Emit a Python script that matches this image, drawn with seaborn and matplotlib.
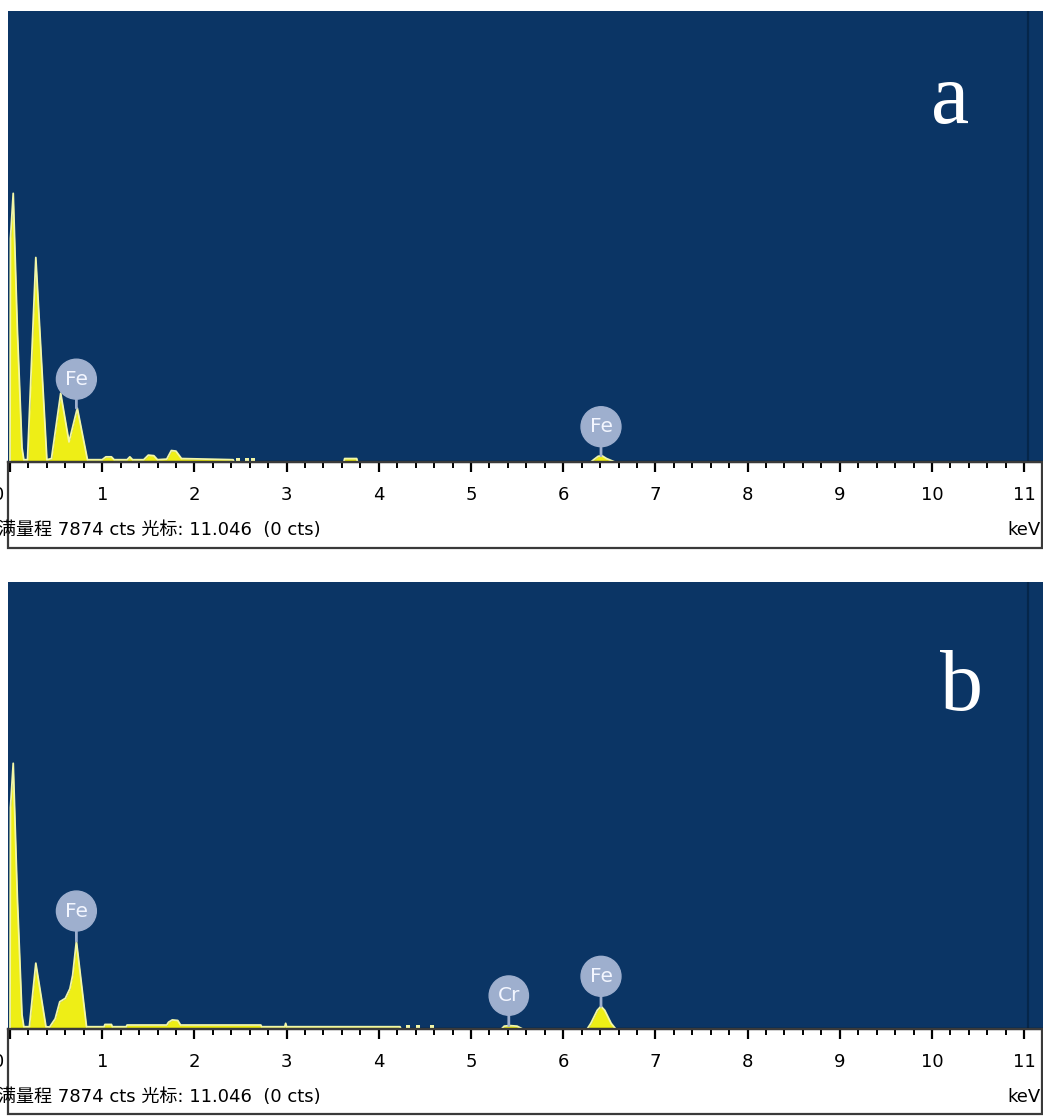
import matplotlib
matplotlib.use("Agg")
import matplotlib.pyplot as plt
from matplotlib.patches import Rectangle
from matplotlib.ticker import MultipleLocator
import seaborn as sns

# ---------------- data ----------------
energy_a = [0.00, 0.005, 0.035, 0.08, 0.13, 0.15,
            0.19, 0.28, 0.40,
            0.45, 0.55, 0.64, 0.73, 0.84,
            1.00, 1.04, 1.10, 1.13, 1.27, 1.30, 1.33, 1.45, 1.50, 1.56, 1.60,
            1.70, 1.75, 1.80, 1.86, 2.42, 2.43,
            3.62, 3.63, 3.76, 3.77,
            6.30, 6.33, 6.38, 6.42, 6.47, 6.53, 6.56, 11.2]
counts_a = [0, 3900, 4690, 2300, 250, 40,
            40, 3570, 40,
            60, 1200, 350, 940, 40,
            40, 90, 90, 40, 40, 90, 40, 40, 120, 110, 40,
            50, 200, 190, 60, 40, 0,
            0, 60, 60, 0,
            0, 40, 100, 110, 60, 20, 0, 0]
dots_a_energy = [2.47, 2.57, 2.64]
dots_a_counts = [40, 40, 40]

energy_b = [0.00, 0.005, 0.035, 0.08, 0.13, 0.15,
            0.21, 0.28, 0.39, 0.43,
            0.49, 0.54, 0.60, 0.65, 0.68, 0.72, 0.83,
            1.02, 1.03, 1.10, 1.11, 1.26, 1.27, 1.70, 1.72, 1.76, 1.82, 1.85,
            2.72, 2.73, 2.98, 2.99, 3.00, 4.23, 4.24,
            5.33, 5.36, 5.42, 5.50, 5.56,
            6.26, 6.30, 6.37, 6.41, 6.45, 6.52, 6.57, 11.2]
counts_b = [0, 3900, 4680, 2300, 250, 40,
            40, 1160, 40, 35,
            180, 480, 540, 710, 950, 1550, 40,
            40, 80, 80, 40, 40, 70, 70, 120, 160, 150, 70,
            70, 40, 40, 100, 40, 40, 0,
            0, 50, 60, 50, 0,
            0, 100, 330, 400, 330, 100, 0, 0]
dots_b_energy = [4.32, 4.42, 4.58]
dots_b_counts = [40, 40, 40]

markers_a_label = ["Fe", "Fe"]
markers_a_energy = [0.72, 6.41]
markers_a_counts = [940, 110]

markers_b_label = ["Fe", "Cr", "Fe"]
markers_b_energy = [0.72, 5.41, 6.41]
markers_b_counts = [1550, 60, 400]

tick_values = list(range(0, 12))
tick_labels = [""] + [str(v) for v in range(1, 12)]
full_scale = 7874
cursor_kev = 11.046
caption = "满量程 7874 cts 光标: 11.046  (0 cts)"
panel_letters = ["a", "b"]

# ---------------- style ----------------
sns.set_theme(style="white")
plt.rcParams["font.family"] = ["DejaVu Sans", "Noto Sans CJK SC"]

W, H = 1043, 1116
fig = plt.figure(figsize=(W / 100, H / 100), dpi=100)
fig.patch.set_facecolor("white")

BG = "#0b3565"
FILL = "#eeee16"
EDGE = "#f2f6a8"
MARK = "#9eafce"


def fx(px):
    return px / W


def fy(py):
    return 1 - py / H


panels = [
    dict(top=11, bottom=462, box_bottom=548, e=energy_a, c=counts_a,
         de=dots_a_energy, dc=dots_a_counts,
         ml=markers_a_label, me=markers_a_energy, mc=markers_a_counts,
         letter=panel_letters[0], letter_x=950, letter_base=123, off=29),
    dict(top=582, bottom=1029, box_bottom=1114, e=energy_b, c=counts_b,
         de=dots_b_energy, dc=dots_b_counts,
         ml=markers_b_label, me=markers_b_energy, mc=markers_b_counts,
         letter=panel_letters[1], letter_x=962, letter_base=710, off=30),
]

for p in panels:
    left_px, right_px = 8, W
    ax = fig.add_axes([fx(left_px), fy(p["bottom"]), fx(right_px - left_px),
                       (p["bottom"] - p["top"]) / H])
    ax.set_facecolor(BG)
    ax.fill_between(p["e"], p["c"], color=FILL, lw=0, zorder=2)
    sns.lineplot(x=p["e"], y=p["c"], ax=ax, color=EDGE, lw=1.3,
                 estimator=None, sort=False, zorder=3)
    sns.scatterplot(x=p["de"], y=p["dc"], ax=ax, color=EDGE, marker="s",
                    s=5, linewidth=0, zorder=3)
    ax.axvline(cursor_kev, color="#05264a", lw=1.6, zorder=1)

    for lab, e, c in zip(p["ml"], p["me"], p["mc"]):
        ax.annotate(lab, xy=(e, c), xytext=(0, p["off"]),
                    textcoords="offset pixels",
                    ha="center", va="center", fontsize=14.5, color="#f3f6ff",
                    family=["DejaVu Sans"],
                    bbox=dict(boxstyle="circle,pad=0.42", fc=MARK, ec=MARK),
                    arrowprops=dict(arrowstyle="-", color=MARK, lw=2,
                                    shrinkA=0, shrinkB=0),
                    zorder=5)

    ax.set_xlim((left_px - 10) / 92.2, (right_px - 10) / 92.2)
    ax.set_ylim(0, full_scale)
    ax.set_yticks([])
    ax.set_xticks(tick_values)
    ax.set_xticklabels(tick_labels)
    ax.xaxis.set_minor_locator(MultipleLocator(0.2))
    ax.tick_params(axis="x", which="major", direction="out", length=7.5,
                   width=1.6, color="black", labelsize=13, pad=10,
                   labelcolor="black", bottom=True)
    ax.tick_params(axis="x", which="minor", direction="out", length=4,
                   width=1.4, color="black", bottom=True)
    for s in ["top", "left", "right"]:
        ax.spines[s].set_visible(False)
    ax.spines["bottom"].set_color("black")
    ax.spines["bottom"].set_linewidth(1.6)
    ax.set_xlabel("")
    ax.set_ylabel("")

    ax.text((p["letter_x"] - left_px) / (right_px - left_px),
            (p["bottom"] - p["letter_base"]) / (p["bottom"] - p["top"]),
            p["letter"], transform=ax.transAxes, ha="center", va="baseline",
            color="white", fontsize=62, family=["Liberation Serif"])

    # white box below the spectrum
    fig.patches.append(Rectangle((fx(left_px), fy(p["box_bottom"])),
                                 fx(right_px - left_px - 1),
                                 (p["box_bottom"] - p["bottom"]) / H,
                                 transform=fig.transFigure, fill=False,
                                 ec="#3a3a3a", lw=1.6, zorder=0))
    # cut "0" label at the far left
    fig.text(fx(-2), fy(p["bottom"] + 33), "0", ha="center", va="center",
             fontsize=13, color="black")
    fig.text(fx(-2), fy(p["bottom"] + 68), caption, ha="left", va="center",
             fontsize=13, color="black")
    fig.text(fx(W - 2), fy(p["bottom"] + 68), "keV", ha="right", va="center",
             fontsize=13, color="black")

fig.savefig("out.png", dpi=100)
